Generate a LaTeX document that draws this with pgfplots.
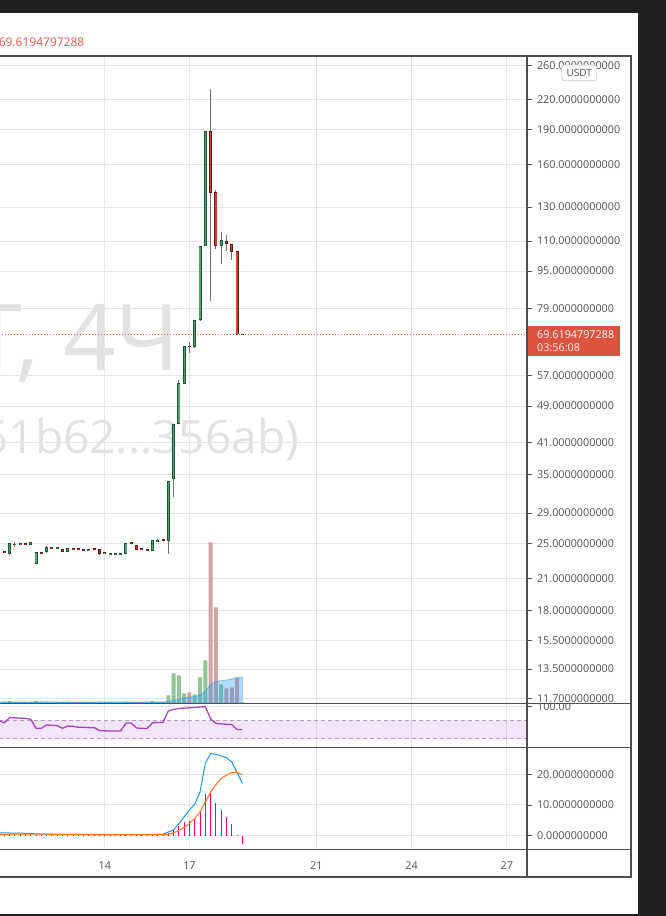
\documentclass[border=0pt]{standalone}
\usepackage{pgfplots}
\usepackage{pgfplotstable}
\pgfplotsset{compat=1.18}
\usepackage{fontspec}
\setmainfont{Open Sans}

\definecolor{bgdark}{RGB}{32,32,32}
\definecolor{framec}{RGB}{78,78,78}
\definecolor{gridc}{RGB}{229,229,229}
\definecolor{labelc}{RGB}{80,80,80}
\definecolor{upfill}{RGB}{83,160,115}
\definecolor{upedge}{RGB}{28,84,52}
\definecolor{dnfill}{RGB}{214,62,48}
\definecolor{dnedge}{RGB}{96,24,20}
\definecolor{wickc}{RGB}{112,112,112}
\definecolor{volup}{RGB}{144,198,152}
\definecolor{voldn}{RGB}{211,163,163}
\definecolor{volma}{RGB}{33,150,243}
\definecolor{rsic}{RGB}{156,39,176}
\definecolor{rsiband}{RGB}{170,80,240}
\definecolor{rsidash}{RGB}{180,160,188}
\definecolor{macdc}{RGB}{33,150,243}
\definecolor{sigc}{RGB}{255,120,30}
\definecolor{histc}{RGB}{245,0,110}
\definecolor{lastc}{RGB}{239,83,80}
\definecolor{lastbox}{RGB}{221,84,62}
\definecolor{markc}{RGB}{226,226,226}
\definecolor{tagedge}{RGB}{205,205,210}

% 4h candles: index, open, high, low, close, volume
\pgfplotstableread{
i  o      h      l      c       v
1  23.76  25.03  23.65  25.01   2.0
3  24.84  25.03  24.82  25.01   1.0
5  24.84  25.19  24.82  25.17   1.0
6  22.61  23.98  22.59  23.96   2.0
8  23.93  24.68  23.85  24.56   1.2
10 24.30  24.52  24.28  24.50   0.8
12 23.99  24.46  23.97  24.44   1.0
16 24.06  24.28  24.04  24.26   0.8
19 23.71  23.93  23.69  23.91   0.8
20 23.60  23.82  23.58  23.80   0.7
21 23.60  23.82  23.58  23.80   0.7
22 23.60  23.82  23.58  23.80   0.7
23 23.70  25.03  23.68  25.01   1.2
28 24.11  25.40  24.09  25.38   2.0
29 25.21  25.54  25.19  25.42   1.0
31 25.33  33.95  23.70  33.90   7.7
32 34.34  44.90  31.35  44.83   29.7
33 44.83  55.61  44.78  54.80   27.7
34 54.70  65.80  54.65  65.70   9.7
36 65.38  74.70  65.30  74.64   8.7
37 74.64  107.6  74.50  107.43  25.7
38 107.3  189.0  107.2  188.78  42.7
41 107.58 115.06 98.50  110.47  18.7
}\upcandles

\pgfplotstableread{
i  o      h      l      c       v
0  24.08  24.10  23.83  23.85   1.0
2  24.96  25.17  24.60  24.84   1.0
4  24.99  25.00  24.78  24.79   0.8
7  23.96  23.98  23.74  23.76   1.0
9  24.52  24.54  24.33  24.35   0.9
11 24.28  24.30  23.97  23.99   1.0
13 24.45  24.46  24.24  24.25   0.8
14 24.40  24.42  24.21  24.23   1.0
15 24.28  24.30  24.09  24.11   0.9
17 24.38  24.39  24.17  24.18   0.8
18 24.28  24.30  23.65  23.76   1.2
24 25.11  25.12  24.90  24.91   0.8
25 24.77  24.79  24.21  24.23   1.0
26 24.38  24.39  24.17  24.18   0.8
27 24.28  24.30  24.09  24.11   0.9
30 25.48  25.49  25.27  25.28   0.9
35 65.78  67.20  63.67  65.38   10.7
39 188.78 231.9  82.16  139.52  160.7
40 140.0  141.4  106.0  107.58  95.7
42 109.93 113.38 104.83 108.33  14.7
43 108.5  108.6  100.30 104.47  15.7
44 104.67 104.8  69.55  69.62   25.7
45 69.90  69.92  69.60  69.6195 0.7
}\downcandles

% volume MA, RSI, MACD line, signal, histogram
\pgfplotstableread{
i   ma    rsi   macd   sig    hist
-1  0.9   68.9  0.90   0.40   0.60
0   0.9   64.5  0.90   0.42   0.65
1   1.0   75.9  0.85   0.45   0.65
2   1.0   75.5  0.80   0.45   0.60
3   1.0   74.8  0.80   0.45   0.60
4   1.0   74.4  0.75   0.45   0.60
5   1.0   72.2  0.70   0.45   0.60
6   1.1   52.5  0.55   0.45   0.30
7   1.1   52.5  0.50   0.45   0.30
8   1.1   59.7  0.50   0.45   0.35
9   1.0   59.1  0.45   0.42   0.30
10  1.0   58.4  0.42   0.40   0.30
11  1.0   52.5  0.40   0.40   0.25
12  1.0   57.5  0.40   0.40   0.30
13  1.0   56.9  0.40   0.38   0.30
14  1.0   54.7  0.38   0.38   0.25
15  1.0   54.7  0.38   0.38   0.25
16  1.0   54.0  0.36   0.37   0.25
17  1.0   54.0  0.36   0.37   0.25
18  1.0   47.5  0.34   0.36   0.20
19  1.0   47.0  0.32   0.35   0.20
20  0.9   46.6  0.30   0.34   0.20
21  0.9   46.6  0.30   0.33   0.20
22  0.9   46.6  0.30   0.32   0.20
23  0.9   64.1  0.32   0.32   0.25
24  0.9   64.1  0.34   0.32   0.25
25  0.9   53.2  0.32   0.32   0.25
26  0.9   52.5  0.32   0.32   0.25
27  0.9   51.9  0.30   0.32   0.20
28  1.0   64.5  0.35   0.32   0.30
29  1.0   65.2  0.38   0.33   0.30
30  1.0   65.6  0.40   0.34   0.30
31  1.7   90.3  1.17   0.42   0.85
32  2.7   94.0  1.90   0.90   1.70
33  3.7   95.8  3.85   1.70   3.00
34  5.0   96.7  6.10   2.70   4.40
35  6.0   97.3  8.40   4.00   4.80
36  6.5   98.4  10.30  5.60   5.50
37  7.7   99.1  14.20  7.70   7.70
38  12.0  99.7  23.60  11.00  13.70
39  18.5  73.3  26.75  14.20  13.90
40  21.4  63.4  26.50  16.60  10.60
41  22.4  62.1  26.00  18.60  8.25
42  23.0  61.5  25.40  19.80  6.10
43  24.0  60.6  24.00  20.55  3.90
44  25.0  49.7  20.65  20.55  0.10
45  25.7  49.7  17.00  19.90  -2.80
}\indicators

\pgfplotsset{
  panel/.style={
    scale only axis, width=527pt, anchor=north west,
    xmin=-0.813, xmax=98.81,
    axis line style={draw=none},
    xtick={19,35,59,77,95}, xticklabels={,,,,}, xtick style={draw=none},
    xmajorgrids, ymajorgrids,
    grid style={gridc, line width=1pt},
    ytick pos=right, yticklabel pos=right,
    tick align=outside, major tick length=4.5pt,
    ytick style={labelc, line width=0.9pt},
    yticklabel style={anchor=west, xshift=2pt, font=\fontsize{10.8}{12}\selectfont, text=labelc},
    minor tick num=0,
  },
  body/.style={draw=none, mark=none, forget plot,
    error bars/.cd, y dir=plus, y explicit, error mark=none},
}

\begin{document}
\begin{tikzpicture}[x=1pt,y=1pt]
\useasboundingbox (0,0) rectangle (666,-916);
\fill[bgdark] (0,0) rectangle (666,-916);
\fill[white] (0,-13) rectangle (637.5,-913.5);

% symbol watermark
\node[anchor=base east, text=markc, font=\fontsize{92}{92}\selectfont, inner sep=0pt] at (180,-370) {USDT, 4Ч};
\node[anchor=base east, text=markc, font=\fontsize{46}{46}\selectfont, inner sep=0pt] at (299,-453.3) {(51b62...356ab)};

% last price header
\node[anchor=base east, text=lastc, font=\fontsize{12}{14}\selectfont, inner sep=0pt] at (84.5,-46.7) {69.6194797288};

% price pane
\begin{axis}[panel, at={(0pt,-56pt)}, height=647pt,
  ymode=log, ymin=11.43, ymax=272.66,
  ytick={260,220,190,160,130,110,95,79,57,49,41,35,29,25,21,18,15.5,13.5,11.7},
  yticklabels={260.0000000000,220.0000000000,190.0000000000,160.0000000000,130.0000000000,110.0000000000,95.0000000000,79.0000000000,57.0000000000,49.0000000000,41.0000000000,35.0000000000,29.0000000000,25.0000000000,21.0000000000,18.0000000000,15.5000000000,13.5000000000,11.7000000000},
]
\addplot[lastc, line width=1pt, dash pattern=on 1.2pt off 1.8pt] coordinates {(-1,69.6195) (99,69.6195)};
% wicks
\addplot[body, error bar style={draw=wickc, line width=1pt}]
  table[x=i, y=l, y error expr=\thisrow{h}-\thisrow{l}] {\upcandles};
\addplot[body, error bar style={draw=wickc, line width=1pt}]
  table[x=i, y=l, y error expr=\thisrow{h}-\thisrow{l}] {\downcandles};
% bodies
\addplot[body, error bar style={draw=upedge, line width=3pt}]
  table[x=i, y=o, y error expr=\thisrow{c}-\thisrow{o}] {\upcandles};
\addplot[body, error bar style={draw=upfill, line width=1.3pt, shorten <=0.8pt, shorten >=0.8pt}]
  table[x=i, y=o, y error expr=\thisrow{c}-\thisrow{o}] {\upcandles};
\addplot[body, error bar style={draw=dnedge, line width=3pt}]
  table[x=i, y=c, y error expr=\thisrow{o}-\thisrow{c}] {\downcandles};
\addplot[body, error bar style={draw=dnfill, line width=1.3pt, shorten <=0.8pt, shorten >=0.8pt}]
  table[x=i, y=c, y error expr=\thisrow{o}-\thisrow{c}] {\downcandles};
\end{axis}

% volume overlay
\begin{axis}[at={(0pt,-56pt)}, anchor=north west, scale only axis, width=527pt, height=647pt,
  xmin=-0.813, xmax=98.81, ymin=0, ymax=647, hide axis]
\addplot[ybar, bar width=4pt, bar shift=0pt, fill=volup, draw=none] table[x=i, y=v] {\upcandles};
\addplot[ybar, bar width=4pt, bar shift=0pt, fill=voldn, draw=none] table[x=i, y=v] {\downcandles};
\addplot[volma, line width=0.8pt, draw opacity=0.5, fill=volma, fill opacity=0.34] table[x=i, y=ma] {\indicators} \closedcycle;
\end{axis}

% RSI pane
\begin{axis}[panel, at={(0pt,-703.3pt)}, height=44pt, ymin=10.98, ymax=107.16,
  ytick={100}, yticklabels={}]
\addplot[draw=none, fill=rsiband, fill opacity=0.14] coordinates {(-1,30) (-1,70) (99,70) (99,30)};
\addplot[rsidash, line width=0.9pt, dash pattern=on 4pt off 3pt] coordinates {(-1,70) (99,70)};
\addplot[rsidash, line width=0.9pt, dash pattern=on 4pt off 3pt] coordinates {(-1,30) (99,30)};
\addplot[rsic, line width=1.3pt, opacity=0.85] table[x=i, y=rsi] {\indicators};
\end{axis}

% MACD pane
\begin{axis}[panel, at={(0pt,-747.3pt)}, height=102pt, ymin=-4.47, ymax=28.81,
  ytick={0,10,20}, yticklabels={0.0000000000,10.0000000000,20.0000000000},
  xticklabels={14,17,21,24,27},
  xticklabel style={anchor=center, yshift=-11.5pt, font=\fontsize{10.8}{12}\selectfont, text=labelc}]
\addplot[ycomb, histc, line width=1pt] table[x=i, y=hist] {\indicators};
\addplot[macdc, line width=1pt] table[x=i, y=macd] {\indicators};
\addplot[sigc, line width=1pt] table[x=i, y=sig] {\indicators};
\end{axis}

% RSI scale label, partly hidden under the pane edge
\begin{scope}
\clip (527,-703.3) rectangle (631,-747.3);
\node[anchor=west, inner sep=0pt, font=\fontsize{10.8}{12}\selectfont, text=labelc] at (537,-706.5) {100.00};
\end{scope}

% last price tag
\fill[lastbox] (527,-326) rectangle (620,-355.7);
\node[anchor=west, inner sep=0pt, font=\fontsize{10.8}{12}\selectfont, text=white] at (537,-334.5) {69.6194797288};
\node[anchor=west, inner sep=0pt, font=\fontsize{10.8}{12}\selectfont, text=white!90!lastbox] at (537,-347.5) {03:56:08};

% currency tag
\draw[tagedge, fill=white, rounded corners=2.5pt, line width=0.8pt] (561.7,-65) rectangle (596.7,-80.7);
\node[inner sep=0pt, font=\fontsize{10}{12}\selectfont, text=labelc] at (579.2,-72.9) {USDT};

% frame and pane separators
\draw[framec, line width=1.2pt] (0,-56) -- (631,-56) -- (631,-877) -- (0,-877);
\draw[framec, line width=1.2pt] (527,-56) -- (527,-877);
\draw[framec, line width=1.2pt] (0,-703.3) -- (631,-703.3);
\draw[framec, line width=1.2pt] (0,-747.3) -- (631,-747.3);
\draw[framec, line width=1.2pt] (0,-849.3) -- (631,-849.3);
\end{tikzpicture}
\end{document}
